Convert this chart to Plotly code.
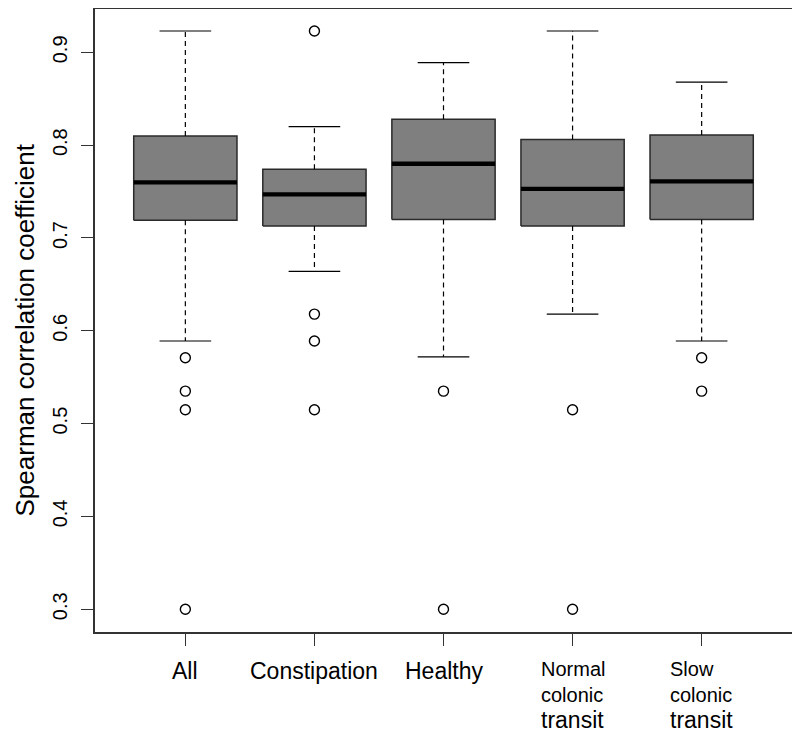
import plotly.graph_objects as go

categories = ["All", "Constipation", "Healthy", "Normal colonic transit", "Slow colonic transit"]
label_lines = [["All"], ["Constipation"], ["Healthy"], ["Normal", "colonic", "transit"], ["Slow", "colonic", "transit"]]
lower_whisker = [0.589, 0.664, 0.572, 0.618, 0.589]
q1 = [0.719, 0.713, 0.720, 0.713, 0.720]
median = [0.760, 0.747, 0.780, 0.753, 0.761]
q3 = [0.810, 0.774, 0.828, 0.806, 0.811]
upper_whisker = [0.923, 0.820, 0.889, 0.923, 0.868]
outliers = [
    [0.571, 0.535, 0.515, 0.300],
    [0.923, 0.618, 0.589, 0.515],
    [0.535, 0.300],
    [0.515, 0.300],
    [0.571, 0.535],
]
y_ticks = [0.3, 0.4, 0.5, 0.6, 0.7, 0.8, 0.9]

FONT = "Liberation Sans, Arial, sans-serif"
BOX_HALF = 0.4
CAP_HALF = 0.2

fig = go.Figure()
for i, cat in enumerate(categories):
    x = i + 1
    # box
    fig.add_trace(go.Scatter(
        x=[x - BOX_HALF, x + BOX_HALF, x + BOX_HALF, x - BOX_HALF, x - BOX_HALF],
        y=[q1[i], q1[i], q3[i], q3[i], q1[i]],
        mode="lines", fill="toself", fillcolor="#7f7f7f",
        line=dict(color="#2a2a2a", width=1.5), showlegend=False, hoverinfo="skip"))
    # whiskers (dashed)
    fig.add_trace(go.Scatter(
        x=[x, x, None, x, x],
        y=[q3[i], upper_whisker[i], None, q1[i], lower_whisker[i]],
        mode="lines", line=dict(color="black", width=1.2, dash="5px,4px"),
        showlegend=False, hoverinfo="skip"))
    # caps
    fig.add_trace(go.Scatter(
        x=[x - CAP_HALF, x + CAP_HALF, None, x - CAP_HALF, x + CAP_HALF],
        y=[upper_whisker[i], upper_whisker[i], None, lower_whisker[i], lower_whisker[i]],
        mode="lines", line=dict(color="black", width=1.2),
        showlegend=False, hoverinfo="skip"))
    # median
    fig.add_trace(go.Scatter(
        x=[x - BOX_HALF, x + BOX_HALF], y=[median[i], median[i]],
        mode="lines", line=dict(color="black", width=4.3),
        showlegend=False, hoverinfo="skip"))
    # outliers
    fig.add_trace(go.Scatter(
        x=[x] * len(outliers[i]), y=outliers[i], mode="markers",
        marker=dict(symbol="circle-open", size=10, color="black", line=dict(width=1.4)),
        showlegend=False, name=cat))

# x labels as annotations (block centred, lines left-aligned)
for i, lines in enumerate(label_lines):
    if len(lines) == 1:
        txt = lines[0]
    else:
        txt = "<br>".join(lines[:-1]) + "<br><span style='font-size:23px'>" + lines[-1] + "</span>"
    fig.add_annotation(
        x=i + 1, xref="x", y=0, yref="paper", yanchor="top", xanchor="center",
        yshift=-24, text=txt, showarrow=False, align="left",
        font=dict(family=FONT, size=23 if len(lines) == 1 else 20, color="black"))

fig.add_annotation(
    x=0, xref="paper", y=0.5, yref="paper", xshift=-71, yshift=-10,
    xanchor="center", yanchor="middle", textangle=-90, showarrow=False,
    text="Spearman correlation coefficient", borderpad=0,
    font=dict(family=FONT, size=26, color="black"))

fig.update_layout(
    width=792, height=726,
    margin=dict(l=87, r=8, t=1, b=102, autoexpand=False),
    plot_bgcolor="white", paper_bgcolor="white",
    font=dict(family=FONT, color="black"),
    xaxis=dict(range=[0.3, 5.7], tickvals=[1, 2, 3, 4, 5], ticktext=["", "", "", "", ""],
               showgrid=False, zeroline=False, showline=True, mirror=True, automargin=False,
               linecolor="#333333", linewidth=1.5, ticks="outside", ticklen=12,
               tickcolor="#333333", tickwidth=1.2),
    yaxis=dict(range=[0.2755, 0.9467], tickvals=y_ticks, ticktext=[f"{v:.1f}" for v in y_ticks],
               tickangle=-90, tickfont=dict(size=20, family=FONT, color="black"),
               showgrid=False, zeroline=False, showline=True, mirror=True, automargin=False,
               linecolor="#333333", linewidth=1.5, ticks="outside", ticklen=12,
               tickcolor="#333333", tickwidth=1.2, ticklabelstandoff=6),
)

fig.write_html("out.html")
